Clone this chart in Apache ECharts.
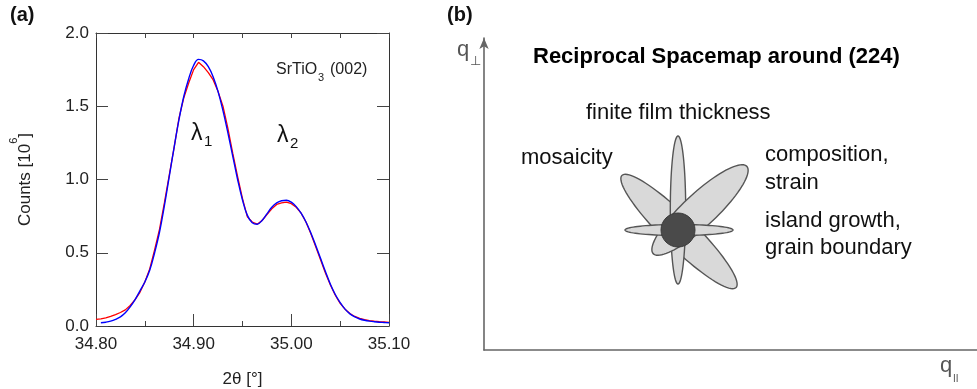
<!DOCTYPE html>
<html>
<head>
<meta charset="utf-8">
<script src="https://cdn.jsdelivr.net/npm/echarts@6/dist/echarts.min.js"></script>
<style>
html,body{margin:0;padding:0;background:#fff;}
#chart{width:977px;height:389px;}
</style>
</head>
<body>
<div id="chart"></div>
<script>
// ---------- Panel (a): XRD scan of SrTiO3 (002) ----------
const twoTheta = [
  34.800,34.805,34.810,34.815,34.820,34.825,34.830,34.835,34.840,34.845,
  34.850,34.855,34.860,34.865,34.870,34.875,34.880,34.885,34.890,34.895,
  34.900,34.905,34.910,34.915,34.920,34.925,34.930,34.935,34.940,34.945,
  34.950,34.955,34.960,34.965,34.970,34.975,34.980,34.985,34.990,34.995,
  35.000,35.005,35.010,35.015,35.020,35.025,35.030,35.035,35.040,35.045,
  35.050,35.055,35.060,35.065,35.070,35.075,35.080,35.085,35.090,35.095,35.100
];
const countsRed = [
  0.045,0.048,0.055,0.065,0.078,0.092,0.110,0.140,0.180,0.230,
  0.300,0.390,0.520,0.660,0.840,1.030,1.220,1.420,1.560,1.660,
  1.750,1.800,1.770,1.730,1.680,1.600,1.500,1.350,1.180,1.020,
  0.870,0.745,0.710,0.695,0.720,0.760,0.800,0.830,0.840,0.845,
  0.835,0.810,0.770,0.710,0.630,0.540,0.450,0.360,0.280,0.210,
  0.155,0.115,0.085,0.065,0.052,0.043,0.037,0.033,0.030,0.028,0.025
];
const countsBlue = [
  null,0.022,0.026,0.033,0.045,0.062,0.090,0.130,0.180,0.240,
  0.300,0.380,0.500,0.640,0.820,1.020,1.220,1.410,1.570,1.690,
  1.780,1.820,1.810,1.770,1.700,1.600,1.470,1.320,1.160,1.000,
  0.860,0.755,0.705,0.695,0.720,0.765,0.810,0.840,0.855,0.858,
  0.845,0.815,0.770,0.710,0.635,0.550,0.460,0.370,0.285,0.215,
  0.160,0.115,0.083,0.062,0.048,0.039,0.033,0.029,0.026,0.024,0.022
];
const xTicks = [34.80, 34.90, 35.00, 35.10];
const yTicks = [0.0, 0.5, 1.0, 1.5, 2.0];

// ---------- Panel (b): schematic reciprocal space map ----------
// order: mosaicity, finite thickness, composition/strain, island growth
const petalCx    = [195, 194, 216, 195];
const petalCy    = [118.5, 140, 140, 120];
const petalA     = [80, 74, 64, 54];
const petalB     = [16, 7.7, 16.5, 5.5];
const petalAngle = [-44.5, 90, 43, 0];
const coreX = [194];
const coreY = [120];
const coreR = [17];

const FONT = 'Liberation Sans, Arial, sans-serif';

const redData = twoTheta.map((x, i) => [x, countsRed[i]]);
const blueData = twoTheta.map((x, i) => [x, countsBlue[i]]).filter(d => d[1] !== null);
const petalData = petalCx.map((x, i) => [x, petalCy[i], petalA[i], petalB[i], petalAngle[i]]);
const coreData = coreX.map((x, i) => [x, coreY[i], coreR[i]]);

function ellipseItem(params, api) {
  const c = api.coord([api.value(0), api.value(1)]);
  const a = api.size([api.value(2), 0])[0];
  const b = api.size([0, api.value(3)])[1];
  const phi = api.value(4) * Math.PI / 180;
  const pts = [];
  const n = 90;
  for (let k = 0; k < n; k++) {
    const t = 2 * Math.PI * k / n;
    const X = a * Math.cos(t) * Math.cos(phi) - b * Math.sin(t) * Math.sin(phi);
    const Y = a * Math.cos(t) * Math.sin(phi) + b * Math.sin(t) * Math.cos(phi);
    pts.push([c[0] + X, c[1] - Y]);
  }
  return {type: 'polygon', shape: {points: pts},
          style: {fill: '#d9d9d9', stroke: '#555555', lineWidth: 1.4}};
}
function coreItem(params, api) {
  const c = api.coord([api.value(0), api.value(1)]);
  const r = api.size([api.value(2), 0])[0];
  return {type: 'circle', shape: {cx: c[0], cy: c[1], r: r},
          style: {fill: '#4a4a4a', stroke: '#3a3a3a', lineWidth: 1}};
}

const axisCol = '#333333';
const chart = echarts.init(document.getElementById('chart'), null, {renderer: 'canvas'});
const option = {
  animation: false,
  backgroundColor: '#ffffff',
  textStyle: {fontFamily: FONT},
  grid: [
    {left: 96, top: 33, width: 293, height: 293, outerBoundsMode: 'none', containLabel: false},
    {left: 484, top: 38, width: 493, height: 312, outerBoundsMode: 'none', containLabel: false}
  ],
  xAxis: [
    {
      gridIndex: 0, type: 'value', min: 34.8, max: 35.1, interval: 0.1, position: 'bottom',
      axisLine: {show: true, onZero: false, lineStyle: {color: axisCol, width: 1}},
      axisTick: {show: true, inside: true, length: 12, lineStyle: {color: '#444'}},
      minorTick: {show: true, splitNumber: 2, length: 5, lineStyle: {color: '#444'}},
      splitLine: {show: false}, minorSplitLine: {show: false},
      axisLabel: {fontSize: 17, color: '#222', margin: 10, fontFamily: FONT,
                  showMinLabel: true, showMaxLabel: true,
                  formatter: v => {
                    const hit = xTicks.find(t => Math.abs(t - v) < 1e-6);
                    return hit === undefined ? '' : hit.toFixed(2);
                  }},
      name: '2θ [°]', nameLocation: 'middle', nameGap: 45, nameMoveOverlap: false,
      nameTextStyle: {fontSize: 17, color: '#222', fontFamily: FONT}
    },
    {
      gridIndex: 0, type: 'value', min: 34.8, max: 35.1, interval: 0.05, position: 'top',
      axisLine: {show: true, onZero: false, lineStyle: {color: axisCol, width: 1}},
      axisTick: {show: true, inside: true, length: 5, lineStyle: {color: '#444'}},
      axisLabel: {show: false}, splitLine: {show: false}
    },
    {
      gridIndex: 1, type: 'value', min: 0, max: 493,
      axisLine: {show: true, lineStyle: {color: '#666666', width: 1.6}},
      axisTick: {show: false}, axisLabel: {show: false}, splitLine: {show: false}
    }
  ],
  yAxis: [
    {
      gridIndex: 0, type: 'value', min: 0, max: 2, interval: 0.5, position: 'left',
      axisLine: {show: true, onZero: false, lineStyle: {color: axisCol, width: 1}},
      axisTick: {show: true, inside: true, length: 12, lineStyle: {color: '#444'}},
      splitLine: {show: false},
      axisLabel: {fontSize: 17, color: '#222', margin: 7, fontFamily: FONT,
                  formatter: v => {
                    const hit = yTicks.find(t => Math.abs(t - v) < 1e-6);
                    return hit === undefined ? '' : hit.toFixed(1);
                  }},
      name: '{m|Counts [10}{s|6}{m|]}', nameLocation: 'middle', nameGap: 62, nameRotate: 90,
      nameMoveOverlap: false,
      nameTextStyle: {fontSize: 17, color: '#222', fontFamily: FONT,
                      rich: {m: {fontSize: 17, color: '#222', fontFamily: FONT, lineHeight: 26, verticalAlign: 'bottom'},
                             s: {fontSize: 11, color: '#222', fontFamily: FONT, verticalAlign: 'top', lineHeight: 12}}}
    },
    {
      gridIndex: 0, type: 'value', min: 0, max: 2, interval: 0.5, position: 'right',
      axisLine: {show: true, onZero: false, lineStyle: {color: axisCol, width: 1}},
      axisTick: {show: true, inside: true, length: 12, lineStyle: {color: '#444'}},
      axisLabel: {show: false}, splitLine: {show: false}
    },
    {
      gridIndex: 1, type: 'value', min: 0, max: 312,
      axisLine: {show: true, symbol: ['none', 'arrow'], symbolSize: [7, 11],
                 lineStyle: {color: '#666666', width: 1.6}},
      axisTick: {show: false}, axisLabel: {show: false}, splitLine: {show: false}
    }
  ],
  series: [
    {type: 'line', xAxisIndex: 0, yAxisIndex: 0, data: redData, showSymbol: false,
     smooth: false, lineStyle: {color: '#ff0000', width: 1.3}, z: 3},
    {type: 'line', xAxisIndex: 0, yAxisIndex: 0, data: blueData, showSymbol: false,
     smooth: 0.4, lineStyle: {color: '#0000ff', width: 1.4}, z: 4},
    {type: 'custom', xAxisIndex: 2, yAxisIndex: 2, data: petalData, renderItem: ellipseItem,
     clip: false, silent: true, z: 5},
    {type: 'custom', xAxisIndex: 2, yAxisIndex: 2, data: coreData, renderItem: coreItem,
     clip: false, silent: true, z: 6}
  ],
  graphic: {elements: [
    {type: 'text', x: 10, y: 15, style: {text: '(a)', font: 'bold 20px ' + FONT, fill: '#111', verticalAlign: 'middle'}},
    {type: 'text', x: 447, y: 15, style: {text: '(b)', font: 'bold 20px ' + FONT, fill: '#111', verticalAlign: 'middle'}},
    // panel (a) annotations
    {type: 'text', x: 276, y: 70, style: {text: 'SrTiO', font: '16px ' + FONT, fill: '#222', verticalAlign: 'middle'}},
    {type: 'text', x: 318, y: 78, style: {text: '3', font: '11px ' + FONT, fill: '#222', verticalAlign: 'middle'}},
    {type: 'text', x: 330, y: 70, style: {text: '(002)', font: '16px ' + FONT, fill: '#222', verticalAlign: 'middle'}},
    {type: 'text', x: 191, y: 134, style: {text: 'λ', font: '23px ' + FONT, fill: '#111', verticalAlign: 'middle'}},
    {type: 'text', x: 204, y: 142, style: {text: '1', font: '15px ' + FONT, fill: '#111', verticalAlign: 'middle'}},
    {type: 'text', x: 277, y: 136, style: {text: 'λ', font: '23px ' + FONT, fill: '#111', verticalAlign: 'middle'}},
    {type: 'text', x: 290, y: 144, style: {text: '2', font: '15px ' + FONT, fill: '#111', verticalAlign: 'middle'}},
    // panel (b) texts
    {type: 'text', x: 533, y: 57, style: {text: 'Reciprocal Spacemap around (224)', font: 'bold 22px ' + FONT, fill: '#000', verticalAlign: 'middle'}},
    {type: 'text', x: 586, y: 113, style: {text: 'finite film thickness', font: '22px ' + FONT, fill: '#111', verticalAlign: 'middle'}},
    {type: 'text', x: 521, y: 158, style: {text: 'mosaicity', font: '22px ' + FONT, fill: '#111', verticalAlign: 'middle'}},
    {type: 'text', x: 765, y: 155, style: {text: 'composition,', font: '22px ' + FONT, fill: '#111', verticalAlign: 'middle'}},
    {type: 'text', x: 765, y: 183, style: {text: 'strain', font: '22px ' + FONT, fill: '#111', verticalAlign: 'middle'}},
    {type: 'text', x: 765, y: 221, style: {text: 'island growth,', font: '22px ' + FONT, fill: '#111', verticalAlign: 'middle'}},
    {type: 'text', x: 765, y: 248, style: {text: 'grain boundary', font: '22px ' + FONT, fill: '#111', verticalAlign: 'middle'}},
    {type: 'text', x: 457, y: 50, style: {text: 'q', font: '22px ' + FONT, fill: '#555', verticalAlign: 'middle'}},
    {type: 'text', x: 470, y: 61, style: {text: '⊥', font: '13px ' + FONT, fill: '#555', verticalAlign: 'middle'}},
    {type: 'text', x: 940, y: 366, style: {text: 'q', font: '22px ' + FONT, fill: '#555', verticalAlign: 'middle'}},
    {type: 'text', x: 953, y: 379, style: {text: 'II', font: '10px ' + FONT, fill: '#555', verticalAlign: 'middle'}}
  ]}
};
chart.setOption(option);
</script>
</body>
</html>
